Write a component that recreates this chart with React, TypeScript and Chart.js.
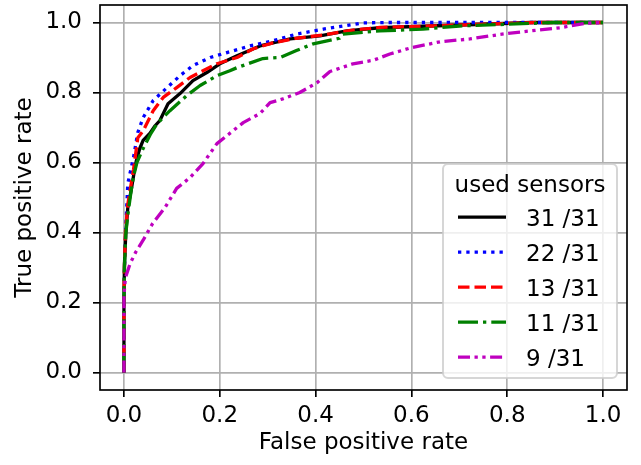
import React, { useEffect, useRef } from "react";
import { Chart, registerables } from "chart.js";

Chart.register(...registerables);

const tickValues = [0, 0.2, 0.4, 0.6, 0.8, 1.0];
const xTitle = "False positive rate";
const yTitle = "True positive rate";
const legendTitle = "used sensors";
const seriesLabels = ["31 /31", "22 /31", "13 /31", "11 /31", "9 /31"];

const fpr31 = [0, 0, 0.001, 0.004, 0.008, 0.015, 0.021, 0.026, 0.033, 0.04, 0.054, 0.065, 0.075, 0.092, 0.117, 0.144, 0.173, 0.2, 0.236, 0.284, 0.347, 0.409, 0.465, 0.534, 0.639, 0.75, 0.85, 1];
const tpr31 = [0, 0.21, 0.31, 0.4, 0.47, 0.52, 0.57, 0.606, 0.64, 0.663, 0.683, 0.705, 0.72, 0.768, 0.797, 0.834, 0.857, 0.882, 0.905, 0.933, 0.953, 0.962, 0.976, 0.985, 0.99, 0.995, 1, 1];

const fpr22 = [0, 0, 0.002, 0.005, 0.008, 0.016, 0.02, 0.026, 0.029, 0.04, 0.061, 0.09, 0.117, 0.144, 0.18, 0.215, 0.263, 0.311, 0.361, 0.416, 0.5, 0.55, 1];
const tpr22 = [0, 0.21, 0.35, 0.45, 0.54, 0.59, 0.615, 0.663, 0.686, 0.728, 0.777, 0.814, 0.848, 0.877, 0.9, 0.914, 0.933, 0.948, 0.967, 0.981, 0.999, 1, 1];

const fpr13 = [0, 0, 0.001, 0.003, 0.008, 0.014, 0.02, 0.029, 0.04, 0.061, 0.082, 0.11, 0.138, 0.165, 0.194, 0.236, 0.27, 0.311, 0.36, 0.42, 0.47, 0.534, 0.64, 0.75, 0.86, 1];
const tpr13 = [0, 0.21, 0.3, 0.4, 0.48, 0.53, 0.58, 0.671, 0.69, 0.748, 0.786, 0.814, 0.843, 0.862, 0.882, 0.9, 0.925, 0.942, 0.955, 0.965, 0.977, 0.986, 0.99, 0.995, 1, 1];

const fpr11 = [0, 0, 0.001, 0.004, 0.009, 0.015, 0.02, 0.027, 0.04, 0.055, 0.069, 0.096, 0.131, 0.159, 0.194, 0.221, 0.236, 0.29, 0.326, 0.36, 0.395, 0.45, 0.457, 0.534, 0.624, 0.7, 0.8, 0.9, 1];
const tpr11 = [0, 0.21, 0.3, 0.4, 0.46, 0.52, 0.56, 0.6, 0.64, 0.68, 0.711, 0.748, 0.791, 0.82, 0.848, 0.862, 0.871, 0.897, 0.9, 0.92, 0.939, 0.955, 0.967, 0.976, 0.981, 0.99, 0.995, 1, 1];

const fpr9 = [0, 0, 0.003, 0.0125, 0.025, 0.04, 0.06, 0.086, 0.11, 0.138, 0.165, 0.194, 0.228, 0.249, 0.284, 0.305, 0.332, 0.367, 0.403, 0.43, 0.478, 0.52, 0.555, 0.6, 0.66, 0.722, 0.785, 0.848, 0.91, 0.966, 1];
const tpr9 = [0, 0.22, 0.27, 0.31, 0.345, 0.378, 0.426, 0.472, 0.526, 0.557, 0.597, 0.654, 0.691, 0.714, 0.74, 0.771, 0.782, 0.8, 0.828, 0.86, 0.882, 0.892, 0.91, 0.928, 0.945, 0.953, 0.966, 0.976, 0.985, 0.998, 1];

const FONT = "'DejaVu Sans', sans-serif";
const FS = 23;

function pts(xs: number[], ys: number[]) {
  return xs.map((x, i) => ({ x, y: ys[i] }));
}

const framePlugin = {
  id: "mplFrame",
  afterDatasetsDraw(chart: any) {
    const { ctx, chartArea: a } = chart;
    ctx.save();
    ctx.strokeStyle = "#000";
    ctx.lineWidth = 1.67;
    ctx.strokeRect(a.left, a.top, a.right - a.left, a.bottom - a.top);
    ctx.restore();
  },
};

const legendPlugin = {
  id: "mplLegend",
  afterDraw(chart: any) {
    const { ctx, chartArea: a } = chart;
    const w = 174;
    const h = 214;
    const right = a.right - 10;
    const bottom = a.bottom - 12;
    const left = right - w;
    const top = bottom - h;
    ctx.save();
    ctx.beginPath();
    ctx.roundRect(left, top, w, h, 5);
    ctx.fillStyle = "rgba(255,255,255,0.8)";
    ctx.fill();
    ctx.strokeStyle = "rgba(204,204,204,0.8)";
    ctx.lineWidth = 2;
    ctx.stroke();
    ctx.font = `${FS}px ${FONT}`;
    ctx.fillStyle = "#000";
    ctx.textBaseline = "alphabetic";
    ctx.textAlign = "center";
    ctx.fillText(legendTitle, left + w / 2, top + 27.7);
    ctx.textAlign = "left";
    chart.data.datasets.forEach((ds: any, i: number) => {
      const base = top + 61.5 + 35 * i;
      const ly = base - 8.4;
      ctx.beginPath();
      ctx.strokeStyle = ds.borderColor;
      ctx.lineWidth = ds.borderWidth;
      ctx.setLineDash(ds.borderDash || []);
      ctx.lineCap = "butt";
      ctx.moveTo(left + 15, ly);
      ctx.lineTo(left + 63, ly);
      ctx.stroke();
      ctx.setLineDash([]);
      ctx.fillText(ds.label, left + 83, base);
    });
    ctx.restore();
  },
};

export default function App() {
  const ref = useRef<HTMLCanvasElement>(null);
  useEffect(() => {
    document.body.style.margin = "0";
    const canvas = ref.current;
    if (!canvas) return;
    const lw = 3.3;
    const styles = [
      { color: "#000000", dash: [] as number[] },
      { color: "#0000ff", dash: [3.3, 5] },
      { color: "#ff0000", dash: [11.5, 5] },
      { color: "#008000", dash: [20, 5, 3.3, 5] },
      { color: "#bf00bf", dash: [12, 4.5, 3.3, 4.5, 3.3, 4.5] },
    ];
    const series = [
      pts(fpr31, tpr31),
      pts(fpr22, tpr22),
      pts(fpr13, tpr13),
      pts(fpr11, tpr11),
      pts(fpr9, tpr9),
    ];
    const axisCommon = (title: string) => ({
      type: "linear" as const,
      min: -0.05,
      max: 1.05,
      afterBuildTicks: (scale: any) => {
        scale.ticks = tickValues.map((v) => ({ value: v }));
      },
      grid: {
        color: "#b0b0b0",
        lineWidth: 1.67,
        drawTicks: true,
        tickLength: 7,
        tickColor: "#000",
        tickWidth: 1.67,
      },
      border: { display: false },
      ticks: {
        color: "#000",
        font: { family: FONT, size: FS },
        callback: (v: any) => Number(v).toFixed(1),
        maxRotation: 0,
        autoSkip: false,
      },
      title: {
        display: true,
        text: title,
        color: "#000",
        font: { family: FONT, size: FS },
      },
    });
    const xAxis: any = axisCommon(xTitle);
    xAxis.ticks.padding = 5;
    xAxis.title.padding = { top: 0, bottom: 8 };
    xAxis.afterFit = (s: any) => {
      s.height = 75;
      s.paddingLeft = 0;
      s.paddingRight = 0;
    };
    const yAxis: any = axisCommon(yTitle);
    yAxis.ticks.padding = 11;
    yAxis.title.padding = { top: 11, bottom: 0 };
    yAxis.afterFit = (s: any) => {
      s.width = 100;
      s.paddingTop = 0;
      s.paddingBottom = 0;
    };
    const chart = new Chart(canvas, {
      type: "line",
      data: {
        datasets: series.map((d, i) => ({
          label: seriesLabels[i],
          data: d,
          borderColor: styles[i].color,
          backgroundColor: styles[i].color,
          borderWidth: lw,
          borderDash: styles[i].dash,
          borderJoinStyle: "round",
          borderCapStyle: "butt",
          pointRadius: 0,
          tension: 0,
          fill: false,
          order: 5 - i,
        })),
      },
      options: {
        animation: false,
        responsive: false,
        devicePixelRatio: 1,
        layout: { padding: { top: 5, right: 14, left: 0, bottom: 0 } },
        plugins: { legend: { display: false }, tooltip: { enabled: false } },
        scales: { x: xAxis, y: yAxis },
      },
      plugins: [framePlugin, legendPlugin],
    });
    return () => chart.destroy();
  }, []);
  return (
    <div style={{ width: 641, height: 465, background: "#fff" }}>
      <canvas ref={ref} width={641} height={465} style={{ display: "block" }} />
    </div>
  );
}
